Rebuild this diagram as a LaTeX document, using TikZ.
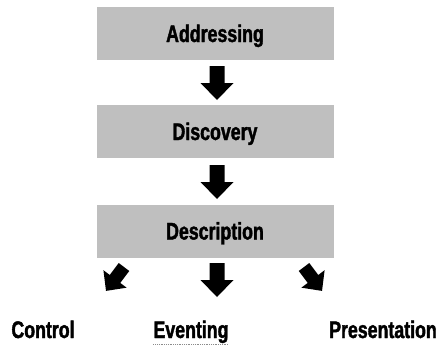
\documentclass[tikz,border=0pt]{standalone}
\usepackage{fontspec}
\newfontfamily\lblfont[FakeStretch=0.74,FakeBold=1.6]{Liberation Sans}
\begin{document}
\begin{tikzpicture}[x=1pt,y=-1pt,
  box/.style={fill=black!25, draw=none, minimum width=237pt, minimum height=53pt, inner sep=0pt,
    text height=17pt, text depth=0pt,
    font=\lblfont\bfseries\fontsize{24}{24}\selectfont},
  lbl/.style={font=\lblfont\bfseries\fontsize{24}{24}\selectfont, inner sep=0pt},
  blockarrow/.pic={\fill[black] (-7.5,0) -- (7.5,0) -- (7.5,17) -- (16.5,17) -- (0,34) -- (-16.5,17) -- (-7.5,17) -- cycle;}]
\useasboundingbox (0,0) rectangle (446,345);
\node[box] (addr) at (215,33.5) {Addressing};
\node[box] (disc) at (215,131.5) {Discovery};
\node[box] (desc) at (215,231) {Description};
\pic at (217,66) {blockarrow};
\pic at (217,165) {blockarrow};
\pic at (217,263) {blockarrow};
\pic[rotate=-37, scale=0.88] at (124,267) {blockarrow};
\pic[rotate=37, scale=0.88] at (304,267) {blockarrow};
\node[lbl, anchor=base] (ctrl) at (43,338) {Control};
\node[lbl, anchor=base] (ev) at (191,338) {Eventing};
\node[lbl, anchor=base] (pres) at (383,338) {Presentation};
\draw[black!45, densely dotted, line width=0.8pt] ([yshift=-1.5pt]ev.south west) -- ([yshift=-1.5pt]ev.south east);
\end{tikzpicture}
\end{document}
